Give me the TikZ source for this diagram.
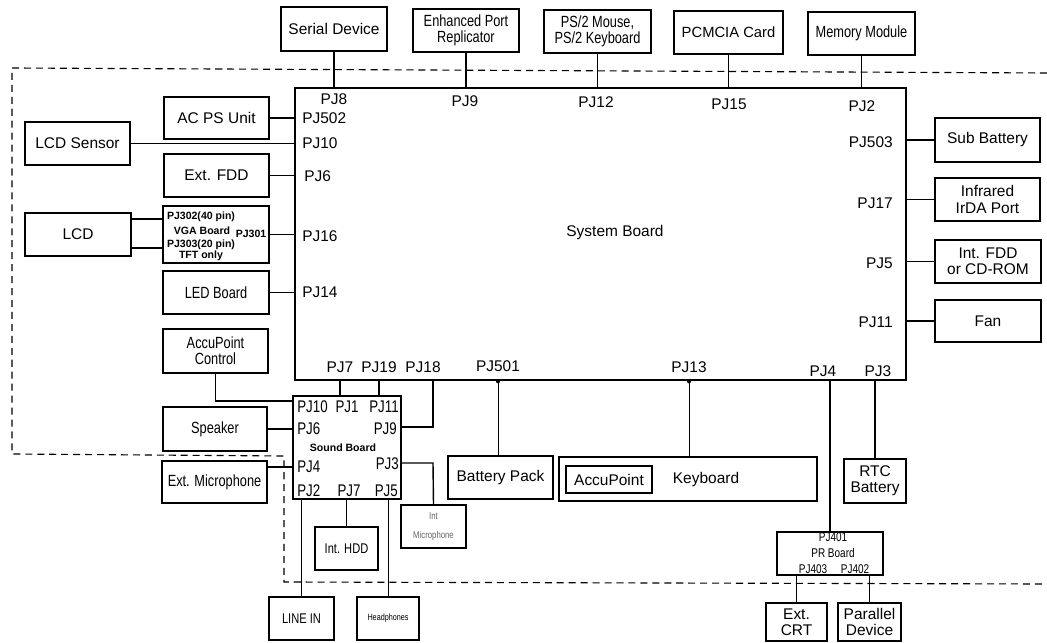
\documentclass[tikz,border=0pt]{standalone}
\usepackage{fontspec}
\setmainfont{Liberation Sans}
\newfontfamily\estrecha[FakeStretch=0.79]{Liberation Sans}

\begin{document}
\begin{tikzpicture}[x=0.025cm, y=-0.025cm,
  blk/.style={draw, line width=1.3pt, inner sep=0pt, align=center, font=\fontsize{11}{11.5}\selectfont},
  nrw/.style={font=\estrecha\fontsize{11.5}{11.5}\selectfont},
  tam/.style 2 args={minimum width=#1*\pxu, minimum height=#2*\pxu},
  pj/.style={inner sep=0pt, font=\fontsize{11}{12}\selectfont},
  pjs/.style={inner sep=0pt, font=\estrecha\fontsize{12}{12}\selectfont},
  prs/.style={inner sep=0pt, font=\estrecha\fontsize{9}{10}\selectfont},
  diminuta/.style={inner sep=0pt, font=\bfseries\fontsize{7.5}{8}\selectfont},
  conn/.style={line width=1pt},
  borde/.style={dash pattern=on 5pt off 3.5pt, line width=0.8pt}
]

\def\pxu{0.025cm}

\useasboundingbox (0,0) rectangle (1047,643);

% Borde punteado
\draw[borde] (1047,73) -- (12,68) -- (12,454) -- (284,456) -- (284,582) -- (1047,584);

% === SYSTEM BOARD ===
\node[blk, line width=2pt, tam={611}{292}] (sysb) at (600.5,234) {};
\node[pj] (sblabel) at (615,233) {System Board};

% === CAJAS SUPERIORES ===
\node[blk, tam={106}{44}] (serial) at (334,29) {Serial Device};
\node[blk, nrw, tam={106}{43}] (epr) at (466,30.5) {Enhanced Port\\Replicator};
\node[blk, nrw, tam={107}{43}] (ps2) at (597.5,31.5) {PS/2 Mouse,\\PS/2 Keyboard};
\node[blk, font=\fontsize{10.5}{11}\selectfont, tam={109}{43}] (pcmcia) at (728.5,32.5) {PCMCIA Card};
\node[blk, nrw, tam={107}{43}] (memmod) at (861.5,33.5) {Memory Module};

\node[pj] (pj8)  at (334,99)  {PJ8};
\node[pj] (pj9)  at (465,101) {PJ9};
\node[pj] (pj12) at (596,102) {PJ12};
\node[pj] (pj15) at (729,104) {PJ15};
\node[pj] (pj2)  at (862,106) {PJ2};

\foreach \n in {serial,epr,ps2,pcmcia,memmod}{
  \draw[conn] (\n.south) -- (\n.south |- sysb.north);
}

% === CAJAS IZQUIERDA ===
\node[blk, tam={105}{42}] (acps) at (216.5,118) {AC PS Unit};
\node[blk, tam={105}{43}] (lcdsens) at (77.5,143.5) {LCD Sensor};
\node[blk, tam={105}{43}] (extfdd) at (216.5,175.5) {Ext. FDD};
\node[blk, tam={106}{57}] (vga) at (216,234.5) {};
\node[blk, tam={106}{43}] (lcd) at (78,234.5) {LCD};
\node[blk, nrw, tam={106}{43}] (led) at (216,292.5) {LED Board};
\node[blk, nrw, tam={105}{44}] (accuctl) at (215.5,351) {AccuPoint\\Control};

\node[diminuta] (pj302) at (201,217) {PJ302(40 pin)};
\node[diminuta] (vgalab) at (202,231) {VGA Board};
\node[diminuta] (pj301) at (251,234) {PJ301};
\node[diminuta] (pj303) at (201,245) {PJ303(20 pin)};
\node[diminuta] (tft)   at (201,256) {TFT only};

\node[pj, anchor=west] (pj502) at (302,118) {PJ502};
\node[pj, anchor=west] (pj10)  at (302,143) {PJ10};
\node[pj, anchor=west] (pj6)   at (304,176) {PJ6};
\node[pj, anchor=west] (pj16)  at (302,236) {PJ16};
\node[pj, anchor=west] (pj14)  at (302,292) {PJ14};

\foreach \n in {acps,extfdd,vga,led}{
  \draw[conn] (\n.east) -- (\n.east -| sysb.west);
}
\draw[conn, line width=0.7pt] (lcdsens.east) -- (lcdsens.east -| sysb.west);
\coordinate (lcda) at (131,219);
\coordinate (lcdb) at (131,248);
\draw[conn] (lcda) -- (lcda -| vga.west);
\draw[conn] (lcdb) -- (lcdb -| vga.west);

% === CAJAS DERECHA ===
\node[blk, tam={105}{44}] (subbat) at (987.5,140) {Sub Battery};
\node[blk, tam={105}{43}] (irda) at (987.5,199.5) {Infrared\\IrDA Port};
\node[blk, tam={106}{43}] (intfdd) at (988,261.5) {Int. FDD\\or CD-ROM};
\node[blk, tam={106}{42}] (fan) at (988,321) {Fan};

\node[pj, anchor=east] (pj503) at (893,142) {PJ503};
\node[pj, anchor=east] (pj17)  at (893,203) {PJ17};
\node[pj, anchor=east] (pj5)   at (893,263) {PJ5};
\node[pj, anchor=east] (pj11)  at (893,322) {PJ11};

\foreach \n in {subbat,irda,fan}{
  \draw[conn] (\n.west) -- (\n.west -| sysb.east);
}
\draw[conn, line width=0.7pt] (intfdd.west) -- (intfdd.west -| sysb.east);

% === CONECTORES INFERIORES ===
\node[pj] (pj7)   at (340,367) {PJ7};
\node[pj] (pj19)  at (379,367) {PJ19};
\node[pj] (pj18)  at (423,367) {PJ18};
\node[pj] (pj501) at (498,366) {PJ501};
\node[pj] (pj13)  at (689,367) {PJ13};
\node[pj] (pj4)   at (823,371) {PJ4};
\node[pj] (pj3)   at (878,371) {PJ3};

% === SOUND BOARD ===
\node[blk, tam={108}{103}] (sound) at (347,447.5) {};
\node[diminuta] (sblab) at (343,448) {Sound Board};
\node[pjs, anchor=west] (s10) at (297,407) {PJ10};
\node[pjs] (s1) at (347,407) {PJ1};
\node[pjs, anchor=east] (s11) at (399,407) {PJ11};
\node[pjs, anchor=west] (s6) at (297,429) {PJ6};
\node[pjs, anchor=east] (s9) at (397,429) {PJ9};
\node[pjs, anchor=west] (s4) at (297,467) {PJ4};
\node[pjs, anchor=east] (s3) at (399,464) {PJ3};
\node[pjs, anchor=west] (s2) at (297,491) {PJ2};
\node[pjs] (s7) at (349,491) {PJ7};
\node[pjs, anchor=east] (s5) at (398,491) {PJ5};

\draw[conn] (pj7.south |- sysb.south) -- (pj7.south |- sound.north);
\draw[conn] (pj19.south |- sysb.south) -- (pj19.south |- sound.north);
\coordinate (c18) at (433,427);
\draw[conn] (c18 |- sysb.south) -- (c18) -- (c18 -| sound.east);

\node[blk, nrw, tam={104}{44}] (speaker) at (215,429) {Speaker};
\node[blk, nrw, tam={105}{42}] (extmic) at (214.5,482) {Ext. Microphone};
\node[blk, font=\estrecha\fontsize{10}{10}\selectfont, tam={63}{43}] (inthdd) at (346.5,548.5) {Int. HDD};
\node[blk, font=\estrecha\fontsize{10}{10}\selectfont, tam={65}{43}] (linein) at (301.5,618.5) {LINE IN};
\node[blk, font=\estrecha\fontsize{6.5}{7}\selectfont, tam={62}{43}] (headph) at (388,618.5) {Headphones};
\node[blk, line width=0.8pt, text=black!60, font=\estrecha\fontsize{7}{13}\selectfont, tam={65}{43}] (intmic) at (433.5,526.5) {Int\\Microphone};

\coordinate (cacc) at (217,401);
\draw[conn] (accuctl.south) -- (accuctl.south |- cacc) -- (cacc -| sound.west);
\draw[conn] (speaker.east) -- (speaker.east -| sound.west);
\coordinate (cmic) at (267,467);
\draw[conn] (extmic.east |- cmic) -- (cmic -| sound.west);
\draw[conn] (inthdd.north) -- (inthdd.north |- sound.south);
\draw[conn, line width=0.7pt] (linein.north) -- (linein.north |- sound.south);
\draw[conn, line width=0.7pt] (headph.north) -- (headph.north |- sound.south);
\coordinate (c3) at (433,463);
\draw[conn] (c3 -| sound.east) -- (c3) -- (intmic.north);

% === BATERIA Y TECLADO ===
\node[blk, tam={105}{43}] (batt) at (500.5,477.5) {Battery Pack};
\node[blk, tam={258}{44}] (kbd) at (688,479) {};
\node[blk, tam={86}{27}] (accup) at (609,479.5) {AccuPoint};
\node[pj] (kbdlab) at (706,479) {Keyboard};

\draw[conn, line width=0.7pt] (pj501.south |- sysb.south) -- (pj501.south |- batt.north);
\draw[conn, line width=0.7pt] (pj13.south |- sysb.south) -- (pj13.south |- kbd.north);
\fill (pj501.south |- sysb.south) circle (0.05cm);
\fill (pj13.south |- sysb.south) circle (0.05cm);

% === RTC Y PR BOARD ===
\node[blk, tam={62}{44}] (rtc) at (875,481) {RTC\\Battery};
\draw[conn] (rtc.north) -- (rtc.north |- sysb.south);

\node[blk, tam={106}{43}] (prb) at (830,553.5) {};
\node[prs] (pj401) at (833,537) {PJ401};
\node[prs] (prlab) at (833,553) {PR Board};
\node[prs] (pj403) at (813,569) {PJ403};
\node[prs] (pj402) at (855,569) {PJ402};
\draw[conn] (prb.north) -- (prb.north |- sysb.south);

\node[blk, tam={61}{38}] (crt) at (796.5,622) {Ext.\\CRT};
\node[blk, tam={63}{38}] (par) at (869.5,622) {Parallel\\Device};
\draw[conn] (crt.north) -- (crt.north |- prb.south);
\draw[conn] (par.north) -- (par.north |- prb.south);

\end{tikzpicture}
\end{document}
